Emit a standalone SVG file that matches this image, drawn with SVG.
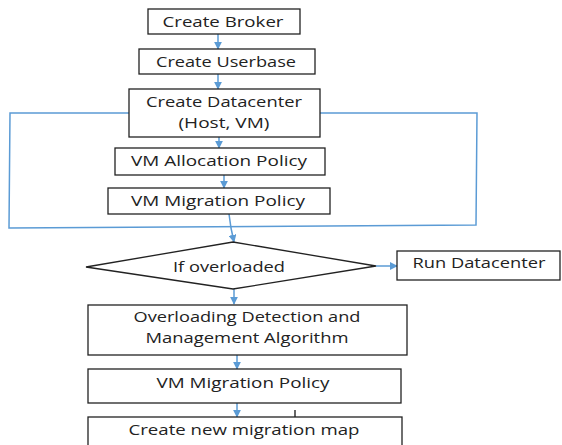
<svg xmlns="http://www.w3.org/2000/svg" width="562" height="445" viewBox="0 0 562 445">
<style>
.box{fill:#fff;stroke:#222;stroke-width:1.3}
.t{font-family:"Open Sans","DejaVu Sans",sans-serif;font-size:14px;fill:#222;text-anchor:middle}
.c{fill:none;stroke:#5B9BD5;stroke-width:1.5}
.k{fill:none;stroke:#000;stroke-width:1.2}
</style>
<defs>
<marker id="a" viewBox="0 0 10 10" refX="9" refY="5" markerWidth="8" markerHeight="8" markerUnits="userSpaceOnUse" orient="auto">
<path d="M0,0 L10,5 L0,10 z" fill="#5B9BD5"/>
</marker>
</defs>
<rect width="562" height="445" fill="#fff"/>
<g id="connectors">
<path class="c" d="M129,113 L10,113 L9,228 L476,225 L477,113 L320,113"/>
<line class="c" x1="218" y1="34" x2="218" y2="49" marker-end="url(#a)"/>
<line class="c" x1="218" y1="74" x2="218" y2="89" marker-end="url(#a)"/>
<line class="c" x1="219" y1="137" x2="219" y2="148" marker-end="url(#a)"/>
<line class="c" x1="224" y1="175" x2="224" y2="188" marker-end="url(#a)"/>
<path class="c" d="M229,214 L231,228 L234,242" marker-end="url(#a)"/>
<line class="c" x1="376" y1="266" x2="397" y2="266" marker-end="url(#a)"/>
<line class="c" x1="234" y1="289" x2="234" y2="304" marker-end="url(#a)"/>
<line class="c" x1="237" y1="355" x2="237" y2="369" marker-end="url(#a)"/>
<line class="c" x1="237" y1="403" x2="237" y2="417" marker-end="url(#a)"/>
<line class="k" x1="295" y1="410" x2="295" y2="427"/>
</g>
<g id="broker">
<rect class="box" x="148" y="9" width="152" height="25"/>
<text class="t" x="223" y="27" textLength="121" lengthAdjust="spacingAndGlyphs">Create Broker</text>
</g>
<g id="userbase">
<rect class="box" x="139" y="49" width="176" height="25"/>
<text class="t" x="226" y="67" textLength="140" lengthAdjust="spacingAndGlyphs">Create Userbase</text>
</g>
<g id="datacenter">
<rect class="box" x="129" y="89" width="191" height="48"/>
<text class="t" x="224" y="107" textLength="156" lengthAdjust="spacingAndGlyphs">Create Datacenter</text>
<text class="t" x="224" y="128" textLength="91" lengthAdjust="spacingAndGlyphs">(Host, VM)</text>
</g>
<g id="allocation">
<rect class="box" x="115" y="148" width="210" height="27"/>
<text class="t" x="219" y="166" textLength="176" lengthAdjust="spacingAndGlyphs">VM Allocation Policy</text>
</g>
<g id="migration1">
<rect class="box" x="108" y="188" width="222" height="26"/>
<text class="t" x="218" y="206" textLength="174" lengthAdjust="spacingAndGlyphs">VM Migration Policy</text>
</g>
<g id="overloaded">
<polygon class="box" points="86,267 233,242 376,266 233,289"/>
<text class="t" x="229" y="272" textLength="112" lengthAdjust="spacingAndGlyphs">If overloaded</text>
</g>
<g id="run">
<rect class="box" x="397" y="251" width="163" height="29"/>
<text class="t" x="479" y="268" textLength="133" lengthAdjust="spacingAndGlyphs">Run Datacenter</text>
</g>
<g id="detection">
<rect class="box" x="88" y="305" width="319" height="50"/>
<text class="t" x="247" y="322" textLength="227" lengthAdjust="spacingAndGlyphs">Overloading Detection and</text>
<text class="t" x="247" y="343" textLength="203" lengthAdjust="spacingAndGlyphs">Management Algorithm</text>
</g>
<g id="migration2">
<rect class="box" x="88" y="369" width="313" height="34"/>
<text class="t" x="243" y="388" textLength="173" lengthAdjust="spacingAndGlyphs">VM Migration Policy</text>
</g>
<g id="newmap">
<rect class="box" x="88" y="417" width="314" height="40"/>
<text class="t" x="244" y="435" textLength="231" lengthAdjust="spacingAndGlyphs">Create new migration map</text>
</g>
</svg>
